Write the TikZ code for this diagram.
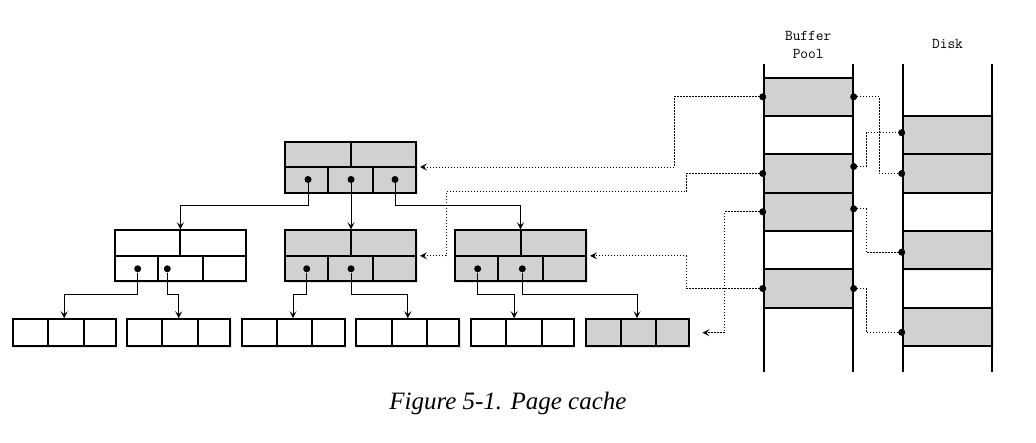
\documentclass[tikz,border=0pt]{standalone}
\usepackage{fontspec}
\usepackage{tikz}
\usetikzlibrary{positioning,calc,arrows.meta,shadows}
\newfontfamily\captionfont{Liberation Serif}
\definecolor{pagegray}{gray}{0.82}

\begin{document}
\begin{tikzpicture}[
    x=1pt, y=-1pt,
    shade/.style={drop shadow={shadow xshift=1.5pt, shadow yshift=-1.5pt, opacity=0.25, fill=black!40}},
    inner/.style={draw, shade, fill=white, line width=2pt, minimum width=131pt, minimum height=51pt, inner sep=0pt},
    leaf/.style={draw, shade, fill=white, line width=2pt, minimum width=103pt, minimum height=27pt, inner sep=0pt},
    cached/.style={fill=pagegray},
    slot/.style={draw, shade, fill=pagegray, line width=2pt, minimum height=38.3pt, inner sep=0pt},
    divider/.style={line width=2pt},
    dot/.style={circle, fill=black, inner sep=0pt, minimum size=7pt},
    pointer/.style={draw, line width=0.9pt, -{Stealth[length=7pt, width=7pt, inset=3pt]}},
    link/.style={draw, line width=0.9pt, dash pattern=on 1.4pt off 1.6pt},
    title/.style={font=\ttfamily\fontsize{15}{18.6}\selectfont, align=center}
]
\useasboundingbox (0,0) rectangle (1036,442);

% Tree pages
\node[inner, cached] (root) at (350.5,167) {};
\node[inner] (mleft) at (180.4,255.8) {};
\node[inner, cached] (mmid) at (350.5,255.8) {};
\node[inner, cached] (mright) at (520.5,255.8) {};

\node[leaf] (l1) at (64.2,332.7) {};
\node[leaf] (l2) at (178.7,332.7) {};
\node[leaf] (l3) at (293,332.7) {};
\node[leaf] (l4) at (407.8,332.7) {};
\node[leaf] (l5) at (522.2,332.7) {};
\node[leaf, cached] (l6) at (637,332.7) {};

% Cells
\foreach \n in {root,mleft,mmid,mright} {
  \draw[divider] (\n.west) -- (\n.east) (\n.north) -- (\n.center)
    ($(\n.west)!1/3!(\n.east)$) -- ($(\n.south west)!1/3!(\n.south east)$)
    ($(\n.west)!2/3!(\n.east)$) -- ($(\n.south west)!2/3!(\n.south east)$);
}
\foreach \i in {1,...,6} {
  \draw[divider]
    ($(l\i.north west)!0.345!(l\i.north east)$) -- ($(l\i.south west)!0.345!(l\i.south east)$)
    ($(l\i.north west)!0.685!(l\i.north east)$) -- ($(l\i.south west)!0.685!(l\i.south east)$);
}

% Child pointers
\node[dot] (rd1) at (308,179.5) {};
\node[dot] (rd2) at (351,179.5) {};
\node[dot] (rd3) at (395,179.5) {};
\node[dot] (ld1) at (137.7,268.8) {};
\node[dot] (ld2) at (167.3,268.8) {};
\node[dot] (md1) at (306.7,268.8) {};
\node[dot] (md2) at (351,268.8) {};
\node[dot] (rtd1) at (477.7,268.8) {};
\node[dot] (rtd2) at (522.3,268.8) {};

\draw[pointer] (rd1) -- ++(0,26) -| (mleft.north);
\draw[pointer] (rd2) -- (rd2 |- mmid.north);
\draw[pointer] (rd3) -- ++(0,26) -| (mright.north);
\draw[pointer] (ld1) -- ++(0,25.5) -| (l1.north);
\draw[pointer] (ld2) -- ++(0,25.5) -| (l2.north);
\draw[pointer] (md1) -- ++(0,25.5) -| (l3.north);
\draw[pointer] (md2) -- ++(0,25.5) -| (l4.north);
\draw[pointer] (rtd1) -- ++(0,25.5) -| ([xshift=-8pt]l5.north);
\draw[pointer] (rtd2) -- ++(0,25.5) -| (l6.north);

% Buffer pool and disk
\node[slot, minimum width=89pt] (b0) at (808.2,96.8) {};
\node[slot, minimum width=89pt] (b2) at (808.2,173.5) {};
\node[slot, minimum width=89pt] (b3) at (808.2,211.8) {};
\node[slot, minimum width=89pt] (b5) at (808.2,288.5) {};

\node[slot, minimum width=89.6pt] (d1) at (947.5,135) {};
\node[slot, minimum width=89.6pt] (d2) at (947.5,173.5) {};
\node[slot, minimum width=89.6pt] (d4) at (947.5,250.2) {};
\node[slot, minimum width=89.6pt] (d6) at (947.5,326.8) {};

\draw[divider] (763.7,64.3) -- (763.7,371.7);
\draw[divider] (852.7,64.3) -- (852.7,371.7);
\draw[divider] (902.7,64.3) -- (902.7,371.7);
\draw[divider] (992.3,64.3) -- (992.3,371.7);

\node[title] (pooltitle) at (808.2,45) {Buffer\\Pool};
\node[title] (disktitle) at (947.5,44) {Disk};

% Page references
\node[dot] (bl0) at (b0.west) {};
\node[dot] (bl2) at (b2.west) {};
\node[dot] (bl3) at (b3.west) {};
\node[dot] (bl5) at (b5.west) {};
\node[dot] (br0) at (b0.east) {};
\node[dot] (br2) at ([yshift=7pt]b2.east) {};
\node[dot] (br3) at ([yshift=3pt]b3.east) {};
\node[dot] (br5) at (b5.east) {};
\node[dot] (dl1) at ([yshift=2.3pt]d1.west) {};
\node[dot] (dl2) at (d2.west) {};
\node[dot] (dl4) at ([yshift=-2pt]d4.west) {};
\node[dot] (dl6) at ([yshift=-5.5pt]d6.west) {};

\draw[link] (br0.center) -- ++(25.6,0) |- (dl2.center);
\draw[link] (br2.center) -- ++(12.3,0) |- (dl1.center);
\draw[link] (br3.center) -- ++(12.3,0) |- (dl4.center);
\draw[link] (br5.center) -- ++(12.3,0) |- (dl6.center);

\draw[link, pointer, shorten >=3pt] (bl0.center) -- ++(-88.7,0) |- (root.east);
\draw[link, pointer, shorten >=3pt] (bl2.center) -- ++(-76.4,0) -- ++(0,18.3) -| ([xshift=29pt]mmid.east) -- (mmid.east);
\draw[link, pointer, shorten >=3pt] (bl5.center) -- ++(-76.4,0) |- (mright.east);
\draw[link, pointer, shorten >=13pt] (bl3.center) -- ++(-38,0) |- (l6.east);

\node[font=\captionfont\itshape\fontsize{25}{30}\selectfont, anchor=base] (caption) at (507.9,409.3) {Figure 5-1. Page cache};

\end{tikzpicture}
\end{document}
